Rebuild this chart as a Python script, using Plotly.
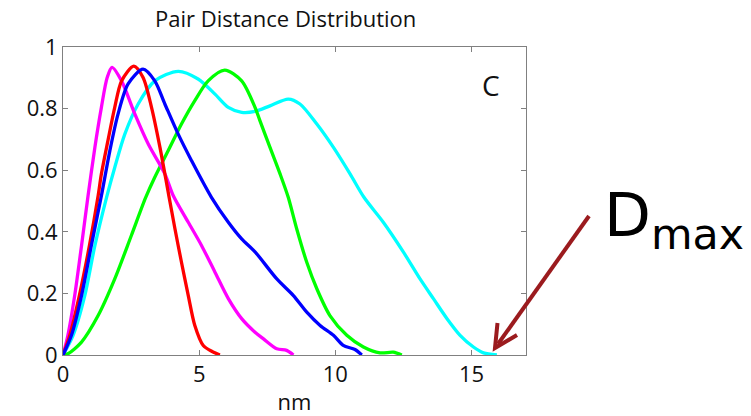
import plotly.graph_objects as go

# ---- data ----
magenta_x = [0, 0.18, 0.43, 0.68, 0.92, 1.17, 1.41, 1.62, 1.80, 2.15, 2.64, 3.13, 3.74, 4.05, 4.6, 5.09, 5.58, 6.07, 6.56, 7.05, 7.35, 7.85, 8.21, 8.46]
magenta_y = [0, 0.064, 0.193, 0.355, 0.517, 0.674, 0.804, 0.90, 0.934, 0.89, 0.782, 0.685, 0.588, 0.517, 0.431, 0.355, 0.269, 0.183, 0.118, 0.074, 0.053, 0.02, 0.015, 0.0]

red_x = [0, 0.25, 0.6, 0.97, 1.29, 1.41, 1.65, 1.90, 2.15, 2.60, 2.94, 3.25, 3.56, 3.88, 4.11, 4.35, 4.6, 4.84, 5.15, 5.46, 5.76]
red_y = [0, 0.064, 0.193, 0.355, 0.517, 0.588, 0.696, 0.804, 0.89, 0.938, 0.901, 0.804, 0.674, 0.52, 0.41, 0.301, 0.193, 0.096, 0.031, 0.012, 0.0]

blue_x = [0, 0.31, 0.68, 1.04, 1.41, 1.72, 2.02, 2.39, 2.94, 3.37, 3.74, 4.23, 4.72, 5.45, 6.07, 6.56, 7.05, 7.85, 8.46, 8.95, 9.44, 9.93, 10.29, 10.72, 10.97]
blue_y = [0, 0.064, 0.193, 0.355, 0.517, 0.663, 0.782, 0.88, 0.928, 0.89, 0.815, 0.717, 0.631, 0.512, 0.431, 0.377, 0.335, 0.247, 0.193, 0.139, 0.096, 0.064, 0.031, 0.018, 0.0]

cyan_x = [0, 0.37, 0.80, 1.17, 1.60, 1.90, 2.27, 2.76, 3.37, 4.23, 4.96, 5.58, 6.07, 6.56, 7.05, 7.6, 8.27, 8.70, 9.32, 9.93, 10.54, 11.05, 11.76, 12.5, 13.11, 13.6, 14.1, 14.58, 15.07, 15.44, 15.93]
cyan_y = [0, 0.064, 0.193, 0.355, 0.512, 0.609, 0.717, 0.815, 0.89, 0.921, 0.896, 0.847, 0.804, 0.788, 0.791, 0.809, 0.831, 0.815, 0.75, 0.674, 0.588, 0.512, 0.431, 0.334, 0.247, 0.183, 0.118, 0.064, 0.026, 0.007, 0.0]

green_x = [0, 0.18, 0.68, 1.29, 1.9, 2.51, 3.03, 3.37, 3.86, 4.35, 4.84, 5.33, 5.94, 6.56, 7.05, 7.23, 7.60, 7.97, 8.27, 8.58, 8.95, 9.32, 9.8, 10.42, 11.03, 11.64, 12.13, 12.44]
green_y = [0, 0.004, 0.042, 0.128, 0.247, 0.388, 0.51, 0.577, 0.663, 0.75, 0.826, 0.89, 0.925, 0.89, 0.804, 0.761, 0.674, 0.588, 0.512, 0.41, 0.301, 0.215, 0.128, 0.064, 0.026, 0.007, 0.009, 0.0]

series = [
    ("cyan", cyan_x, cyan_y, "#00FFFF"),
    ("green", green_x, green_y, "#00FF00"),
    ("magenta", magenta_x, magenta_y, "#FF00FF"),
    ("red", red_x, red_y, "#FF0000"),
    ("blue", blue_x, blue_y, "#0000FF"),
]

x_ticks = [0, 5, 10, 15]
y_ticks = [0, 0.2, 0.4, 0.6, 0.8, 1]
y_tick_labels = ["0", "0.2", "0.4", "0.6", "0.8", "1"]

W, H = 751, 416
L, R, T, B = 63, 526, 47, 355


def px(xp):
    return (xp - L) / (R - L)


def py(yp):
    return (B - yp) / (B - T)


fig = go.Figure()
for name, xs, ys, col in series:
    fig.add_trace(go.Scatter(x=xs, y=ys, mode="lines", name=name,
                             line=dict(color=col, width=3.3, shape="spline", smoothing=0.8),
                             showlegend=False, hoverinfo="skip"))

FONT = "Open Sans"
axis_common = dict(showline=True, linecolor="#808080", linewidth=1, mirror="allticks",
                   ticks="inside", ticklen=5, tickcolor="#808080", showgrid=False,
                   zeroline=False, automargin=False,
                   tickfont=dict(family=FONT, size=22, color="#111"))

fig.update_xaxes(range=[0, 17], tickvals=x_ticks, ticktext=[str(v) for v in x_ticks],
                 title=dict(text="nm", font=dict(family=FONT, size=22, color="#111"), standoff=7),
                 **axis_common)
fig.update_yaxes(range=[0, 1], tickvals=y_ticks, ticktext=y_tick_labels, **axis_common)

arrow_col = "#9B1B1E"
tail = (589, 216)
tip = (495, 348)
arm1 = (497.5, 323)
arm2 = (517, 335)

shapes = [
    dict(type="line", xref="paper", yref="paper",
         x0=px(tail[0]), y0=py(tail[1]), x1=px(tip[0] + 3), y1=py(tip[1] - 4),
         line=dict(color=arrow_col, width=4)),
    dict(type="path", xref="paper", yref="paper",
         path=f"M {px(arm1[0])} {py(arm1[1])} L {px(tip[0])} {py(tip[1])} L {px(arm2[0])} {py(arm2[1])}",
         line=dict(color=arrow_col, width=4)),
]

annotations = [
    dict(text="Pair Distance Distribution", xref="paper", yref="paper",
         x=px(285), y=py(18), xanchor="center", yanchor="middle", showarrow=False,
         font=dict(family=FONT, size=22, color="#111")),
    dict(text="C", x=15.7, y=0.878, xref="x", yref="y", showarrow=False,
         font=dict(family=FONT, size=28, color="#111")),
    dict(text="D<sub>max</sub>", xref="paper", yref="paper",
         x=px(602), y=py(261), xanchor="left", yanchor="bottom", showarrow=False,
         font=dict(family="DejaVu Sans", size=61, color="#000")),
]

fig.update_layout(width=W, height=H, margin=dict(l=L, r=W - R, t=T, b=H - B, autoexpand=False),
                  paper_bgcolor="white", plot_bgcolor="white",
                  shapes=shapes, annotations=annotations)

fig.write_html("out.html")
